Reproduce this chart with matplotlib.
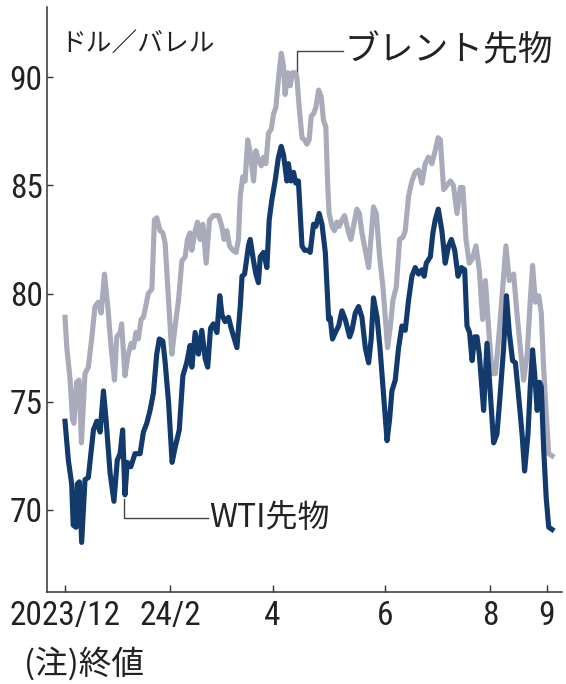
import matplotlib
matplotlib.use('Agg')
import matplotlib.pyplot as plt
from matplotlib import font_manager

# 終値（取引日ベース、2023/12/1 = 0）
wti_day = [0, 1.3, 2.6, 3.2, 4.3, 4.8, 5.6, 6.5, 7.8, 9.1,
           11.1, 12.4, 13.7, 15.0, 16.0, 17.6, 19.1, 20.4, 21.5, 22.5,
           23.4, 24.3, 25.7, 27.3, 29.3, 30.6, 31.9, 33.2, 34.5, 35.8,
           36.8, 38.2, 39.1, 40.4, 41.8, 43.0, 44.6, 46.0, 47.5, 48.8,
           49.5, 50.8, 52.1, 53.4, 54.7, 55.7, 56.8, 57.9, 59.3, 60.4,
           61.3, 62.5, 63.8, 65.1, 67.1, 68.4, 69.1, 70.1, 71.6, 72.3,
           73.6, 74.5, 75.5, 76.2, 77.5, 78.8, 79.7, 80.7, 82.0, 83.3,
           84.4, 85.3, 86.6, 87.2, 88.2, 89.2, 90.1, 91.1, 92.5, 93.5,
           95.0, 95.7, 97.0, 97.9, 99.2, 100.3, 101.6, 102.9, 103.5, 104.4,
           105.5, 106.8, 108.1, 109.4, 111.1, 112.0, 113.3, 114.6, 115.9, 117.2,
           118.5, 119.5, 120.4, 121.8, 123.0, 124.3, 125.7, 126.7, 127.6, 128.9,
           130.2, 131.5, 132.8, 134.1, 135.4, 136.7, 138.0, 139.3, 140.2, 141.0,
           142.6, 143.6, 144.5, 145.7, 147.1, 148.4, 149.7, 150.8, 152.1, 153.4,
           154.7, 156.0, 156.9, 157.9, 158.9, 159.9, 160.8, 161.7, 163.4, 164.7,
           166.0, 167.3, 168.6, 169.9, 171.2, 172.3, 173.4, 174.7, 175.8, 177.1,
           178.4, 179.4, 180.7, 181.6, 182.5, 183.3, 184.3, 185.2, 185.9, 186.8,
           187.8, 188.8, 190.1]
wti_price = [74.1, 72.3, 71.2, 69.3, 69.2, 71.2, 71.3, 68.5, 71.4, 71.5,
             73.7, 74.1, 73.6, 75.5, 74.2, 71.7, 70.4, 72.3, 72.6, 73.7,
             70.7, 72.2, 72.0, 72.6, 72.6, 73.6, 74.0, 74.6, 75.4, 77.2,
             77.9, 77.8, 76.8, 75.0, 72.2, 72.9, 73.7, 76.2, 76.8, 77.6,
             76.6, 78.2, 77.2, 78.3, 77.0, 76.6, 78.4, 78.6, 78.2, 79.9,
             79.0, 78.7, 78.9, 78.3, 77.5, 79.4, 80.8, 80.9, 82.2, 82.5,
             81.5, 80.9, 80.5, 81.7, 81.9, 81.2, 83.4, 84.3, 85.2, 86.3,
             86.8, 86.4, 85.2, 86.0, 85.2, 85.6, 85.1, 85.2, 82.2, 82.0,
             82.0, 81.9, 83.2, 83.1, 83.7, 83.2, 81.9, 78.8, 78.9, 77.9,
             78.2, 78.5, 79.2, 78.8, 78.0, 78.3, 79.1, 79.4, 78.9, 77.5,
             76.8, 77.9, 79.8, 78.9, 77.4, 75.4, 73.2, 74.2, 75.5, 76.0,
             77.5, 78.5, 78.3, 79.7, 80.8, 81.2, 80.9, 81.1, 80.8, 81.4,
             81.7, 82.8, 83.4, 83.9, 82.9, 81.4, 82.2, 82.5, 82.0, 80.8,
             81.2, 81.1, 78.5, 78.2, 76.9, 78.0, 78.0, 77.2, 74.6, 77.7,
             75.4, 73.1, 73.5, 75.4, 77.5, 79.9, 78.2, 76.9, 76.8, 75.2,
             73.5, 71.8, 73.5, 75.7, 77.4, 76.3, 74.6, 75.9, 75.7, 72.9,
             70.6, 69.2, 69.1]

brent_day = [0, 0.7, 2.0, 2.9, 3.5, 4.5, 5.5, 6.4, 7.8, 9.1,
             10.4, 11.7, 13.0, 14.1, 15.4, 16.7, 18.0, 19.3, 20.2, 21.5,
             22.1, 23.4, 24.5, 25.8, 26.7, 27.7, 28.6, 29.7, 30.6, 31.5,
             32.5, 33.9, 34.9, 35.8, 37.1, 38.2, 39.1, 40.4, 41.7, 43.0,
             44.3, 45.6, 46.9, 47.8, 48.8, 49.5, 50.8, 51.7, 52.7, 53.8,
             55.1, 56.4, 57.9, 59.9, 61.2, 62.1, 63.2, 64.2, 65.5, 66.8,
             67.7, 68.4, 69.4, 70.3, 71.3, 72.3, 73.6, 74.5, 75.5, 76.6,
             77.5, 78.4, 79.4, 80.5, 81.4, 82.3, 83.3, 84.4, 85.3, 85.9,
             87.0, 87.9, 88.8, 89.8, 90.5, 91.4, 92.5, 93.5, 94.4, 95.3,
             96.1, 97.0, 97.9, 99.0, 100.0, 100.9, 101.8, 102.6, 103.1, 104.2,
             105.2, 106.1, 107.0, 108.1, 109.1, 110.7, 111.6, 112.6, 113.9, 114.9,
             115.9, 117.2, 118.5, 119.4, 120.4, 121.5, 122.8, 124.1, 125.0, 125.9,
             127.0, 128.0, 129.3, 130.6, 131.9, 132.8, 134.1, 135.4, 136.7, 138.0,
             139.3, 140.6, 141.9, 143.2, 144.5, 145.6, 146.5, 147.8, 149.1, 150.4,
             151.6, 153.0, 154.3, 155.3, 156.5, 157.8, 159.0, 160.4, 161.7, 163.0,
             164.1, 165.4, 166.7, 168.0, 169.3, 170.6, 172.1, 173.4, 175.1, 176.4,
             177.7, 179.0, 180.4, 181.6, 182.5, 183.6, 184.9, 185.9, 186.8, 187.8,
             188.8, 190.1]
brent_price = [78.9, 77.5, 76.0, 74.2, 74.0, 75.9, 76.0, 73.1, 76.3, 76.6,
               77.9, 79.4, 79.6, 79.1, 80.9, 79.4, 77.5, 76.0, 78.0, 78.2,
               78.6, 76.2, 77.1, 77.7, 77.5, 78.2, 77.9, 78.8, 78.9, 79.4,
               80.0, 80.2, 83.4, 83.5, 82.9, 82.8, 82.3, 79.7, 77.2, 78.5,
               79.7, 81.5, 81.7, 82.5, 82.8, 82.0, 82.9, 83.3, 82.5, 83.2,
               81.4, 83.4, 83.6, 83.6, 83.1, 82.5, 82.9, 82.2, 82.0, 81.9,
               82.5, 84.5, 85.4, 85.2, 87.1, 86.5, 85.2, 86.6, 86.2, 85.9,
               86.3, 86.0, 87.4, 87.6, 88.3, 88.6, 89.9, 91.1, 90.5, 89.2,
               90.2, 89.6, 90.2, 90.2, 90.0, 88.6, 87.2, 87.1, 86.9, 87.1,
               88.2, 88.3, 88.6, 89.4, 89.1, 88.0, 87.7, 84.8, 83.7, 83.1,
               82.9, 83.3, 83.1, 83.4, 83.6, 82.8, 82.5, 83.1, 83.9, 83.7,
               82.8, 82.0, 81.2, 82.5, 84.0, 83.7, 81.7, 80.3, 78.9, 77.5,
               78.5, 79.7, 80.3, 82.5, 82.6, 82.9, 84.5, 85.2, 85.6, 85.7,
               85.1, 86.0, 86.3, 86.0, 86.6, 87.2, 87.1, 84.8, 85.0, 85.2,
               85.0, 83.7, 84.9, 84.9, 82.5, 81.4, 81.6, 82.2, 81.1, 78.8,
               80.6, 78.3, 76.3, 76.3, 78.0, 79.9, 82.2, 80.6, 80.9, 79.1,
               77.5, 76.0, 77.2, 79.7, 81.3, 79.6, 79.9, 79.1, 76.6, 74.5,
               72.6, 72.5]

# 月初の取引日
tick_days = [0, 41, 81, 125, 166, 188]
tick_labels = ['2023/12', '24/2', '4', '6', '8', '9']
y_ticks = [70, 75, 80, 85, 90]

WTI_COLOR = '#123a6c'
BRENT_COLOR = '#a9abbb'
INK = '#333333'
JP_FONT = ['Noto Sans CJK JP', 'DejaVu Sans']

# 数字は細めの書体があればそれを使う
installed = {f.name for f in font_manager.fontManager.ttflist}
narrow = [n for n in ['Roboto Condensed', 'Liberation Sans Narrow', 'Open Sans Condensed',
                      'DejaVu Sans Condensed'] if n in installed]
NUM_FONT = narrow[:1] + ['Liberation Sans', 'DejaVu Sans']
NUM_SIZE = 24 if narrow else 22


def main():
    plt.rcParams['font.family'] = NUM_FONT

    fig = plt.figure(figsize=(5.66, 6.84), dpi=100)
    ax = fig.add_axes([0.0825, 0.1345, 0.9105, 0.855])

    ax.plot(brent_day, brent_price, color=BRENT_COLOR, lw=3.7, zorder=3)
    ax.plot(wti_day, wti_price, color=WTI_COLOR, lw=3.7, zorder=4)

    ax.set_xlim(-7.15, 194)
    ax.set_ylim(66.21, 93.23)

    for side in ['top', 'right']:
        ax.spines[side].set_visible(False)
    for side in ['left', 'bottom']:
        ax.spines[side].set_color(INK)
        ax.spines[side].set_linewidth(1.1)

    ax.set_xticks(tick_days)
    ax.set_xticklabels(tick_labels)
    ax.set_yticks(y_ticks)
    ax.tick_params(axis='both', direction='in', colors=INK, labelsize=NUM_SIZE,
                   width=1.0, labelcolor='#222222')
    ax.tick_params(axis='x', length=5, pad=6)
    ax.tick_params(axis='y', length=4.3, pad=3)

    # 系列ラベルと引き出し線
    ax.plot([90.5, 90.5, 108.4], [90.0, 91.2, 91.2], color='#444444', lw=1.0, zorder=2)
    ax.text(109.2, 91.2, 'ブレント先物', family=JP_FONT, fontsize=25,
            color='#222222', va='center', ha='left')
    ax.plot([22.9, 22.9, 56.0], [70.5, 69.65, 69.65], color='#444444', lw=1.0, zorder=2)
    ax.text(56.4, 69.65, 'WTI先物', family=JP_FONT, fontsize=23,
            color='#222222', va='center', ha='left')

    fig.text(60 / 566, 1 - 44 / 684, 'ドル／バレル', family=JP_FONT, fontsize=18.5,
             color='#222222', va='center', ha='left')
    fig.text(24 / 566, 1 - 664 / 684, '(注)終値', family=JP_FONT, fontsize=23.5,
             color='#222222', va='center', ha='left')

    fig.savefig('out.png', dpi=100)


if __name__ == '__main__':
    main()
